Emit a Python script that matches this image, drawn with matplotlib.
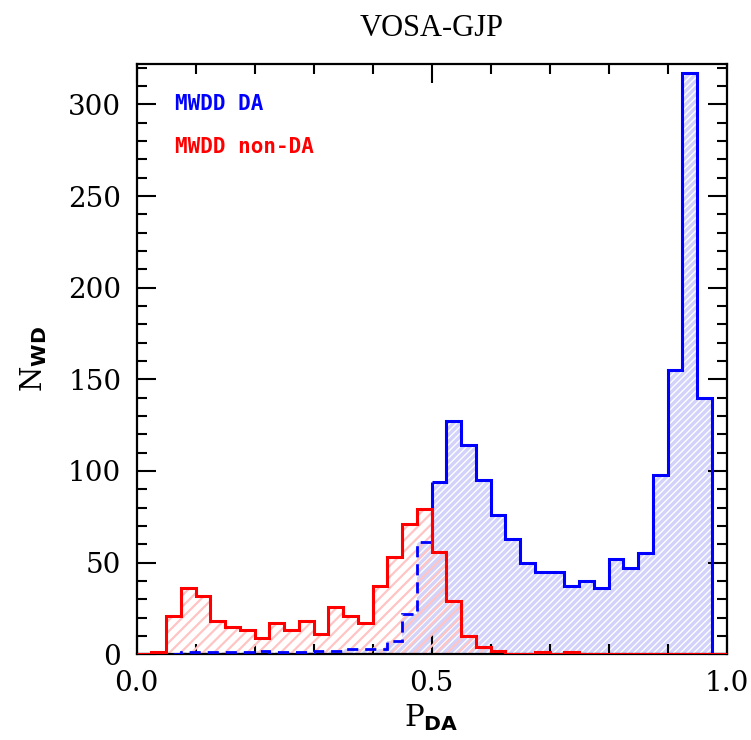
import matplotlib
matplotlib.use("Agg")
import matplotlib.pyplot as plt
from matplotlib.ticker import MultipleLocator
import numpy as np

# histogram edges, bin width 0.025
edges = np.linspace(0.0, 1.0, 41)

# MWDD DA (blue) counts per bin
da_counts = [0, 0, 0, 1, 1, 1, 1, 1, 2, 1,
             1, 1, 2, 2, 3, 3, 3, 7, 22, 61,
             94, 127, 114, 95, 76, 63, 50, 45, 45, 37,
             40, 36, 52, 47, 55, 98, 155, 317, 140, 0]

# MWDD non-DA (red) counts per bin
nonda_counts = [0, 1, 21, 36, 32, 18, 15, 13, 9, 17,
                13, 18, 11, 26, 21, 17, 37, 53, 71, 79,
                56, 29, 10, 4, 2, 0, 0, 1, 0, 1,
                0, 0, 0, 0, 0, 0, 0, 0, 0, 0]

title = "VOSA-GJP"
labels = ["MWDD DA", "MWDD non-DA"]

fig = plt.figure(figsize=(7.51, 7.40), dpi=100)
ax = fig.add_axes([0.1818, 0.1158, 0.7856, 0.7977])

da = np.array(da_counts, dtype=float)
nd = np.array(nonda_counts, dtype=float)

# blue fill with white hatch
plt.rcParams["hatch.linewidth"] = 1.0
ax.stairs(da, edges, fill=True, facecolor="#d2d2fa", edgecolor="white",
          hatch="/////", linewidth=0, zorder=1)
# red hatch, no fill
plt.rcParams["hatch.linewidth"] = 1.6
ax.stairs(nd, edges, fill=True, facecolor="none", edgecolor="#ffc4c4",
          hatch="///", linewidth=0, zorder=2)

# blue outline: dashed below 0.5, solid above
half = 20
ax.stairs(da[:half], edges[:half + 1], baseline=None, color="blue",
          linestyle=(0, (4, 2.5)), linewidth=2.0, zorder=3)
ax.stairs(da[half:], edges[half:], baseline=None, color="blue",
          linewidth=2.2, zorder=3)
ax.vlines(edges[half], da[half - 1], da[half], color="blue",
          linewidth=2.2, zorder=3)

# red outline
ax.stairs(nd, edges, baseline=0, color="red", linewidth=2.2, zorder=4)

ax.set_xlim(0, 1.0)
ax.set_ylim(0, 322)

ax.xaxis.set_major_locator(MultipleLocator(0.5))
ax.xaxis.set_minor_locator(MultipleLocator(0.1))
ax.yaxis.set_major_locator(MultipleLocator(50))
ax.yaxis.set_minor_locator(MultipleLocator(10))
ax.tick_params(which="both", direction="in", top=True, right=True,
               width=1.5, labelsize=20, pad=11)
ax.tick_params(which="major", length=14)
ax.tick_params(which="minor", length=7)
for lab in ax.get_xticklabels() + ax.get_yticklabels():
    lab.set_family("DejaVu Serif")
for s in ax.spines.values():
    s.set_linewidth(1.6)
ax.xaxis.set_major_formatter(plt.FuncFormatter(lambda v, p: f"{v:.1f}"))

ax.set_xlabel(r"P$_{\mathbf{DA}}$", family="DejaVu Serif", fontsize=21,
              labelpad=4)
ax.set_ylabel(r"N$_{\mathbf{WD}}$", family="DejaVu Serif", fontsize=21,
              labelpad=14)
ax.set_title(title, family="Liberation Serif", fontsize=22, pad=20)

ax.text(0.065, 300, labels[0], color="blue", family="DejaVu Sans Mono",
        fontsize=15, fontweight="bold", va="center", ha="left")
ax.text(0.065, 277, labels[1], color="red", family="DejaVu Sans Mono",
        fontsize=15, fontweight="bold", va="center", ha="left")

fig.savefig("out.png", dpi=100)
